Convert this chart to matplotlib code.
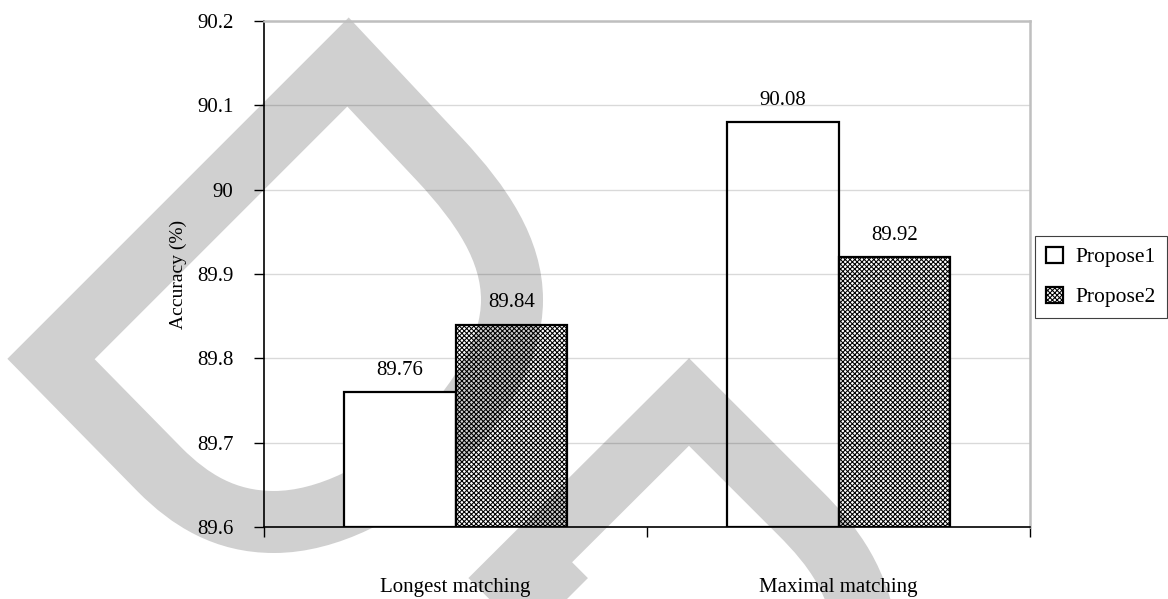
import numpy as np
import matplotlib
matplotlib.use("Agg")
import matplotlib.pyplot as plt
from matplotlib.path import Path
from matplotlib.patches import PathPatch
from matplotlib.transforms import Affine2D
from matplotlib.ticker import FuncFormatter

# data
categories = ["Longest matching", "Maximal matching"]
series = ["Propose1", "Propose2"]
propose1 = [89.76, 90.08]
propose2 = [89.84, 89.92]
y_ticks = [89.6, 89.7, 89.8, 89.9, 90.0, 90.1, 90.2]

plt.rcParams["font.family"] = ["Liberation Serif", "DejaVu Serif"]
plt.rcParams["font.size"] = 15
plt.rcParams["hatch.linewidth"] = 0.75

W, H = 1168, 599
fig = plt.figure(figsize=(W / 100, H / 100), dpi=100)
fig.patch.set_facecolor("white")
ax = fig.add_axes([264 / W, 1 - 527 / H, (1030 - 264) / W, (527 - 21) / H])
ax.set_facecolor("none")

# grey background stamp, pixel coordinates with origin at top left
px = Affine2D().scale(1 / W, -1 / H).translate(0, 1) + fig.transFigure
M, L, C, Z = Path.MOVETO, Path.LINETO, Path.CURVE4, Path.CLOSEPOLY
stamp1 = Path(
    [(51, 359), (348, 62), (440, 160),
     (482, 205), (512, 250), (512, 300),
     (512, 400), (380, 522), (274, 522),
     (225, 522), (190, 500), (160, 470),
     (51, 359), (51, 359)],
    [M, L, L, C, C, C, C, C, C, C, C, C, L, Z])
stamp2 = Path(
    [(420, 670), (689, 402), (800, 513),
     (835, 548), (858, 580), (868, 640),
     (528, 562), (650, 684)],
    [M, L, L, C, C, C, M, L])
for p in (stamp1, stamp2):
    fig.add_artist(PathPatch(p, transform=px, facecolor="none", edgecolor="#d0d0d0",
                             lw=62 * 0.72, joinstyle="miter", capstyle="butt",
                             zorder=-1))

x = np.arange(len(categories))
w = 0.292
b1 = ax.bar(x - w / 2, np.array(propose1) - 89.6, w, bottom=89.6, label=series[0],
            facecolor="white", edgecolor="black", linewidth=1.6, zorder=3)
b1[1].set_facecolor("none")
b2 = ax.bar(x + w / 2, np.array(propose2) - 89.6, w, bottom=89.6, label=series[1],
            facecolor="none", edgecolor="black", linewidth=1.6, hatch="xxxxxxx", zorder=3)

for bars, vals in ((b1, propose1), (b2, propose2)):
    for rect, v in zip(bars, vals):
        ax.annotate(f"{v:.2f}", (rect.get_x() + rect.get_width() / 2, v),
                    xytext=(0, 9), textcoords="offset points",
                    ha="center", va="bottom", fontsize=15)

ax.set_xlim(-0.5, 1.5)
ax.set_ylim(89.6, 90.2)
ax.set_yticks(y_ticks)
ax.yaxis.set_major_formatter(FuncFormatter(lambda v, _: f"{round(v, 1):g}"))
ax.tick_params(axis="y", direction="out", length=7, width=1, pad=15, labelsize=15)
ax.set_ylabel("Accuracy (%)", fontsize=14, labelpad=7)

ax.set_xticks([-0.5, 0.5, 1.5])
ax.set_xticklabels([])
ax.set_xticks(x, minor=True)
ax.set_xticklabels(categories, minor=True, fontsize=15)
ax.tick_params(axis="x", which="major", direction="out", length=7, width=1)
ax.tick_params(axis="x", which="minor", length=0, pad=37)

ax.grid(axis="y", color="black", alpha=0.15, linewidth=1, zorder=0)
ax.set_axisbelow(True)
for s in ("top", "right"):
    ax.spines[s].set_color("#bfbfbf")
    ax.spines[s].set_linewidth(1.8)
for s in ("left", "bottom"):
    ax.spines[s].set_color("black")
    ax.spines[s].set_linewidth(1.2)

leg = fig.legend(loc="center left", bbox_to_anchor=(1035 / W, 1 - 277 / H),
                 frameon=True, fancybox=False, framealpha=1, edgecolor="#404040",
                 borderaxespad=0, handlelength=0.8, handleheight=0.8,
                 handletextpad=0.6, labelspacing=0.9, borderpad=0.5, fontsize=15.5)
leg.get_frame().set_linewidth(0.8)

fig.savefig("out.png", dpi=100)
